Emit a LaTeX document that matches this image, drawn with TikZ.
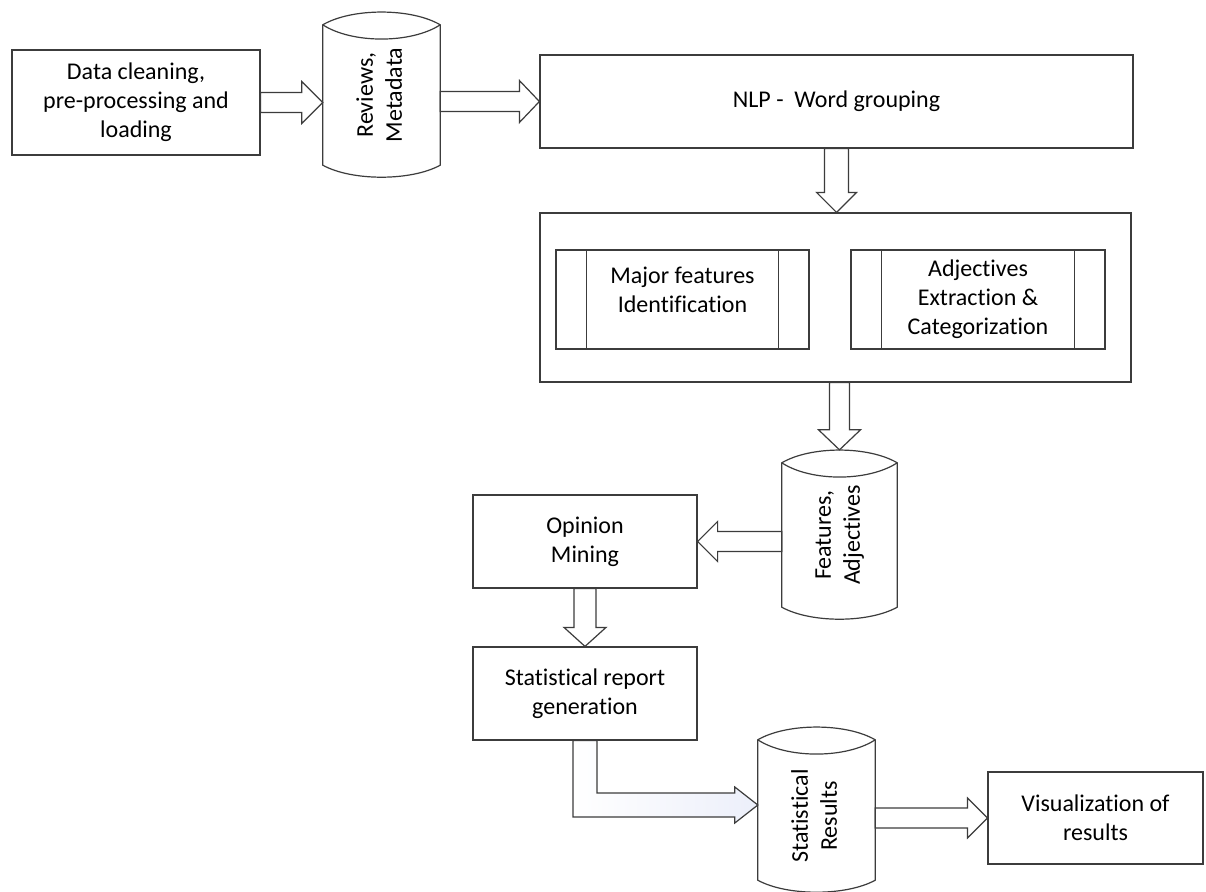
\documentclass[tikz,border=0pt]{standalone}
\usepackage{fontspec}
\setmainfont[Ligatures={CommonOff}]{Carlito}
\usepackage{graphicx}
\usetikzlibrary{calc}
\definecolor{ln}{RGB}{60,60,60}
\definecolor{shadeblue}{RGB}{236,239,250}

% right-pointing block arrow: from, to, half shaft, half head, head length
\newcommand{\rarr}[5]{%
\draw[blk] let \p1=(#1), \p2=(#2) in (\x1,\y1+#3pt) -- (\x2-#5pt,\y1+#3pt) -- (\x2-#5pt,\y1+#4pt) -- (\x2,\y1) -- (\x2-#5pt,\y1-#4pt) -- (\x2-#5pt,\y1-#3pt) -- (\x1,\y1-#3pt) -- cycle;}
% left-pointing block arrow
\newcommand{\larr}[5]{%
\draw[blk] let \p1=(#1), \p2=(#2) in (\x1,\y1+#3pt) -- (\x2+#5pt,\y1+#3pt) -- (\x2+#5pt,\y1+#4pt) -- (\x2,\y1) -- (\x2+#5pt,\y1-#4pt) -- (\x2+#5pt,\y1-#3pt) -- (\x1,\y1-#3pt) -- cycle;}
% down-pointing block arrow
\newcommand{\darr}[5]{%
\draw[blk] let \p1=(#1), \p2=(#2) in (\x1-#3pt,\y1) -- (\x1-#3pt,\y2+#5pt) -- (\x1-#4pt,\y2+#5pt) -- (\x1,\y2) -- (\x1+#4pt,\y2+#5pt) -- (\x1+#3pt,\y2+#5pt) -- (\x1+#3pt,\y1) -- cycle;}
% cylinder outline around a named node
\newcommand{\cylout}[1]{%
\draw[cylline] (#1.north west) .. controls +(29,-17) and +(-29,-17) .. (#1.north east) -- (#1.south east) .. controls +(-29,16) and +(29,16) .. (#1.south west) -- cycle;
\draw[cylline] (#1.north west) .. controls +(29,19) and +(-29,19) .. (#1.north east);}
% subprocess side bars
\newcommand{\subbars}[1]{%
\draw[cylline] ($(#1.north west)+(31,0)$) -- ($(#1.south west)+(31,0)$);
\draw[cylline] ($(#1.north east)+(-31,0)$) -- ($(#1.south east)+(-31,0)$);}

\begin{document}
\begin{tikzpicture}[x=1pt,y=-1pt,
  box/.style={draw=ln,line width=1.2pt,rectangle,inner sep=0pt,align=center,font=\fontsize{24}{29}\selectfont},
  cylbody/.style={rectangle,inner sep=0pt,font=\fontsize{24}{29}\selectfont},
  blk/.style={draw=ln,line width=1.2pt,fill=white,line join=miter},
  cylline/.style={draw=ln,line width=1.2pt}]
\useasboundingbox[fill=white] (0,0) rectangle (1206,891);

% boxes
\node[box,minimum width=248,minimum height=105] (clean) at (136,102.5) {Data cleaning,\\pre-processing and\\loading};
\node[box,minimum width=593,minimum height=93] (nlp) at (836.5,101.5) {NLP -\ \ Word grouping};
\node[box,minimum width=591,minimum height=169] (grp) at (835.5,297.5) {};
\node[box,minimum width=253,minimum height=99] (major) at (682.5,299.5) {};
\node[align=center,font=\fontsize{24}{29}\selectfont,inner sep=0pt] (majort) at (682.5,289.5) {Major features\\Identification};
\node[box,minimum width=254,minimum height=99] (adj) at (978,299.5) {Adjectives\\Extraction \&\\Categorization};
\subbars{major}
\subbars{adj}
\node[box,minimum width=224,minimum height=93] (opin) at (585,541.5) {Opinion\\Mining};
\node[box,minimum width=224,minimum height=93] (stat) at (585,693.5) {Statistical report\\generation};
\node[box,minimum width=215,minimum height=92] (viz) at (1095.5,818) {Visualization of\\results};

% cylinders
\node[cylbody,minimum width=117,minimum height=140] (rev) at (381.5,95) {\rotatebox{90}{\begin{tabular}{@{}c@{}}Reviews,\\Metadata\end{tabular}}};
\cylout{rev}
\node[cylbody,minimum width=115,minimum height=144] (feat) at (839.5,535) {\rotatebox{90}{\begin{tabular}{@{}c@{}}Features,\\Adjectives\end{tabular}}};
\cylout{feat}
\node[cylbody,minimum width=117,minimum height=140] (sres) at (816.5,810) {};
\node[cylbody] (sresl) at (816.5,816) {\rotatebox{90}{\begin{tabular}{@{}c@{}}Statistical\\Results\end{tabular}}};
\cylout{sres}

% block arrows
\rarr{clean.east}{rev.west |- clean.east}{10}{21}{21}
\rarr{rev.east |- nlp.west}{nlp.west}{10}{21}{20}
\darr{nlp.south}{nlp.south |- grp.north}{12}{20}{20}
\darr{grp.south -| feat.north}{$(feat.north)+(0,-13)$}{10}{21}{20}
\larr{feat.west |- opin.east}{opin.east}{10}{20}{20}
\darr{opin.south}{stat.north}{11}{21}{19}
\rarr{sres.east |- viz.west}{viz.west}{10}{20}{20}
% elbow arrow with light shading
\coordinate (etip) at ($(sres.west)+(0,-5)$);
\draw[draw=ln,line width=1.2pt,left color=white,right color=shadeblue,line join=miter]
  let \p1=(stat.south), \p2=(etip) in
  (\x1-12pt,\y1) -- (\x1-12pt,\y2-12pt) -- (\x2-23pt,\y2-12pt) -- (\x2-23pt,\y2-18pt) -- (\x2,\y2)
  -- (\x2-23pt,\y2+18pt) -- (\x2-23pt,\y2+12pt) -- (\x1+12pt,\y2+12pt) -- (\x1+12pt,\y1) -- cycle;
\end{tikzpicture}
\end{document}
